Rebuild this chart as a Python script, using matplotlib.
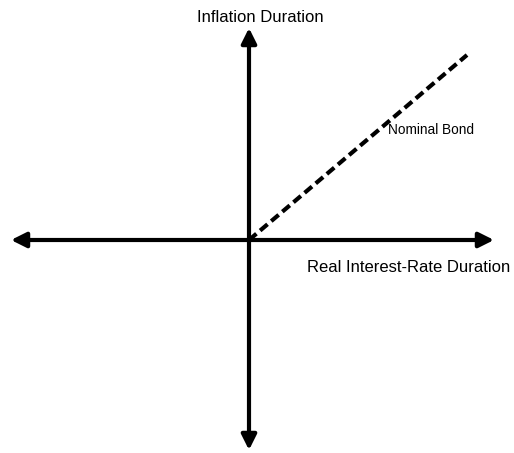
import matplotlib
matplotlib.use("Agg")
import matplotlib.pyplot as plt
from matplotlib.patches import FancyArrowPatch

plt.rcParams['font.family'] = ['Liberation Sans', 'DejaVu Sans']
plt.rcParams['lines.scale_dashes'] = False

# Data (pixel-like units relative to origin)
x_axis_span = [-238, 245]
y_axis_span = [-210, 212]
nominal_bond_x = [0, 218]
nominal_bond_y = [0, 185]
x_label = "Real Interest-Rate Duration"
y_label = "Inflation Duration"
series_label = "Nominal Bond"

fig = plt.figure(figsize=(5.14, 4.53), dpi=100)
ax = fig.add_axes([0, 0, 1, 1])
ax.set_xlim(-249, 514 - 249)
ax.set_ylim(-(453 - 240), 240)
ax.axis('off')

style = "<|-|>,head_length=1.0,head_width=0.5"
for (x0, x1), (y0, y1) in [((x_axis_span[0], x_axis_span[1]), (0, 0)),
                           ((0, 0), (y_axis_span[0], y_axis_span[1]))]:
    arr = FancyArrowPatch((x0, y0), (x1, y1), arrowstyle=style,
                          mutation_scale=9, lw=3, color='black',
                          shrinkA=0, shrinkB=0)
    ax.add_patch(arr)

ax.plot(nominal_bond_x, nominal_bond_y, color='black', lw=3,
        dashes=(7, 3.5), solid_capstyle='butt', dash_capstyle='butt')

ax.text(11, 212 + 11, y_label, fontsize=12, ha='center', va='center')
ax.text(58, -27, x_label, fontsize=12, ha='left', va='center')
ax.text(139, 110, series_label, fontsize=9.8, ha='left', va='center')

fig.savefig("out.png", dpi=100)
